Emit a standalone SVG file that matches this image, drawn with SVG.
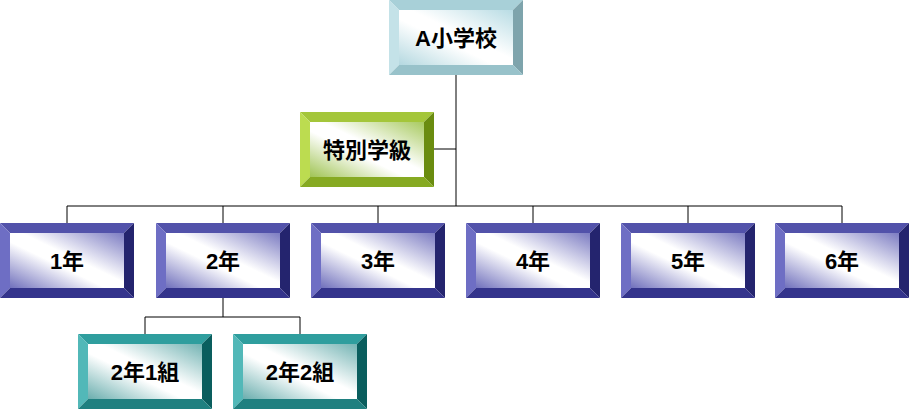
<svg xmlns="http://www.w3.org/2000/svg" width="910" height="410" viewBox="0 0 910 410">
<style>
text{font-family:"Liberation Sans","Noto Sans CJK JP",sans-serif;font-weight:bold;font-size:22px;fill:#000;text-anchor:middle}
.conn{stroke:#000;stroke-width:1;fill:none}
.bt{fill:var(--t)}.bl{fill:var(--l)}.br{fill:var(--r)}.bb{fill:var(--b)}.bf{fill:var(--f)}
.y{--t:#5252aa;--l:#6e6ec4;--r:#24246e;--b:#34348c;--f:url(#gy)}
.c{--t:#a8d0d8;--l:#c4e2e8;--r:#7ea4ac;--b:#98c2ca;--f:url(#gc)}
.g{--t:#a4c63a;--l:#bcdc50;--r:#6a8c10;--b:#86aa22;--f:url(#gg)}
.k{--t:#2f9e9e;--l:#52b8b8;--r:#0a5e5e;--b:#1f8080;--f:url(#gk)}
</style>
<defs>
<linearGradient id="gy" x1="0" y1="1" x2="1" y2="0">
<stop offset="0" stop-color="#7070bc"/><stop offset="0.42" stop-color="#ffffff"/><stop offset="0.55" stop-color="#ffffff"/><stop offset="1" stop-color="#7c7cc2"/>
</linearGradient>
<linearGradient id="gc" x1="0" y1="1" x2="1" y2="0">
<stop offset="0" stop-color="#b4d8e0"/><stop offset="0.42" stop-color="#ffffff"/><stop offset="0.55" stop-color="#ffffff"/><stop offset="1" stop-color="#b8dce4"/>
</linearGradient>
<linearGradient id="gg" x1="0" y1="1" x2="1" y2="0">
<stop offset="0" stop-color="#a0c454"/><stop offset="0.42" stop-color="#ffffff"/><stop offset="0.55" stop-color="#ffffff"/><stop offset="1" stop-color="#a8ca60"/>
</linearGradient>
<linearGradient id="gk" x1="0" y1="1" x2="1" y2="0">
<stop offset="0" stop-color="#6aaeae"/><stop offset="0.42" stop-color="#ffffff"/><stop offset="0.55" stop-color="#ffffff"/><stop offset="1" stop-color="#74b4b4"/>
</linearGradient>
<g id="box">
<polygon class="bt" points="0,0 134,0 124,10 10,10"/>
<polygon class="bl" points="0,0 10,10 10,65 0,75"/>
<polygon class="br" points="134,0 134,75 124,65 124,10"/>
<polygon class="bb" points="0,75 10,65 124,65 134,75"/>
<rect class="bf" x="10" y="10" width="114" height="55"/>
</g>
</defs>
<g id="connectors" class="conn">
<path d="M456,73V206M434,149H456M67,206H842"/>
<path d="M67,206V223M223,206V223M378,206V223M533,206V223M688,206V223M842,206V223"/>
<path d="M223,297V317M145,317H300M145,317V334M300,317V334"/>
</g>
<g id="n-school" class="c" transform="translate(389,0)"><use href="#box"/><text x="67" y="46">A小学校</text></g>
<g id="n-special" class="g" transform="translate(300,112)"><use href="#box"/><text x="67" y="46">特別学級</text></g>
<g id="n-y1" class="y" transform="translate(0,223)"><use href="#box"/><text x="67" y="46">1年</text></g>
<g id="n-y2" class="y" transform="translate(156,223)"><use href="#box"/><text x="67" y="46">2年</text></g>
<g id="n-y3" class="y" transform="translate(311,223)"><use href="#box"/><text x="67" y="46">3年</text></g>
<g id="n-y4" class="y" transform="translate(466,223)"><use href="#box"/><text x="67" y="46">4年</text></g>
<g id="n-y5" class="y" transform="translate(621,223)"><use href="#box"/><text x="67" y="46">5年</text></g>
<g id="n-y6" class="y" transform="translate(775,223)"><use href="#box"/><text x="67" y="46">6年</text></g>
<g id="n-c1" class="k" transform="translate(78,334)"><use href="#box"/><text x="67" y="46">2年1組</text></g>
<g id="n-c2" class="k" transform="translate(233,334)"><use href="#box"/><text x="67" y="46">2年2組</text></g>
</svg>
